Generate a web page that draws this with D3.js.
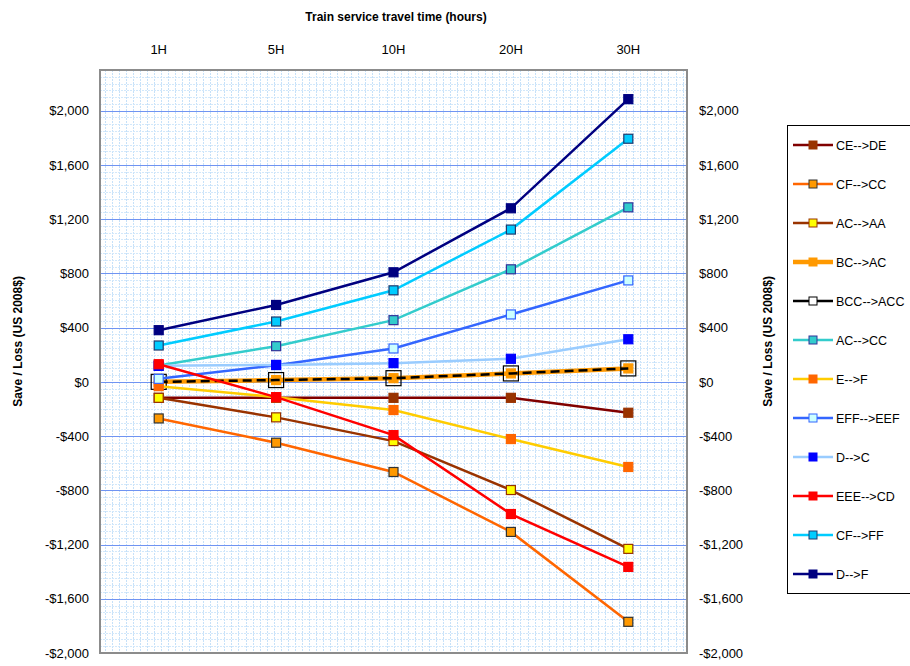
<!DOCTYPE html>
<html>
<head>
<meta charset="utf-8">
<script src="https://cdn.jsdelivr.net/npm/d3@7"></script>
<style>
  body { margin: 0; background: #fff; }
  text { font-family: "Liberation Sans", Arial, sans-serif; }
</style>
</head>
<body>
<div id="content"></div>
<script>
// categories + tick labels
var categories = ["1H", "5H", "10H", "20H", "30H"];
var yTicks = [-2000, -1600, -1200, -800, -400, 0, 400, 800, 1200, 1600, 2000];

// series values
var ceDe   = [-118, -118, -118, -118, -228];
var cfCc   = [-270, -449, -665, -1107, -1770];
var acAa   = [-118, -262, -437, -798, -1232];
var bcAc   = [0, 13, 27, 62, 99];
var bccAcc = [0, 13, 27, 62, 99];
var acCc   = [120, 263, 455, 830, 1287];
var eF     = [-32, -113, -208, -422, -628];
var effEef = [22, 123, 246, 497, 748];
var dC     = [118, 125, 138, 170, 314];
var eeeCd  = [130, -113, -393, -975, -1365];
var cfFf   = [268, 445, 675, 1123, 1793];
var dF     = [381, 567, 808, 1280, 2085];

var seriesNames = ["CE-->DE", "CF-->CC", "AC-->AA", "BC-->AC", "BCC-->ACC", "AC-->CC",
                   "E-->F", "EFF-->EEF", "D-->C", "EEE-->CD", "CF-->FF", "D-->F"];
var seriesValues = [ceDe, cfCc, acAa, bcAc, bccAcc, acCc, eF, effEef, dC, eeeCd, cfFf, dF];

// look of each series
var styles = [
  {line: "#800000", w: 2.5, fill: "#993300", stroke: "#993300", size: 9},
  {line: "#ff6600", w: 2.5, fill: "#ff9900", stroke: "#333333", size: 9},
  {line: "#993300", w: 2.5, fill: "#ffff00", stroke: "#993300", size: 9},
  {line: "#ff9900", w: 4.5, fill: "#ff9900", stroke: "#ff9900", size: 9},
  {line: "#000000", w: 2.5, fill: "none",    stroke: "#000000", size: 15, dash: "9,5", legendFill: "#ffffff"},
  {line: "#33cccc", w: 2.5, fill: "#33cccc", stroke: "#333399", size: 9},
  {line: "#ffcc00", w: 2.5, fill: "#ff6600", stroke: "#ff6600", size: 9},
  {line: "#3366ff", w: 2.5, fill: "#ccffff", stroke: "#3366ff", size: 9},
  {line: "#99ccff", w: 2.5, fill: "#0000ff", stroke: "#0000ff", size: 9},
  {line: "#ff0000", w: 2.5, fill: "#ff0000", stroke: "#ff0000", size: 9},
  {line: "#00ccff", w: 2.5, fill: "#00ccff", stroke: "#1f3a6e", size: 9},
  {line: "#000080", w: 2.5, fill: "#000080", stroke: "#000080", size: 9}
];

var W = 910, H = 666;
var pLeft = 100, pRight = 687, pTop = 70, pBottom = 653;

var svg = d3.select("#content").append("svg")
    .attr("width", W)
    .attr("height", H);

var x = d3.scaleBand().domain(categories).range([pLeft, pRight]).padding(0);
var y = d3.scaleLinear().domain([-2000, 2300]).range([pBottom, pTop]);

//plot area background
svg.append("rect")
    .attr("x", pLeft).attr("y", pTop)
    .attr("width", pRight - pLeft).attr("height", pBottom - pTop)
    .attr("fill", "#ffffff");

var grid = svg.append("g");

//minor vertical grid (pattern-like)
for (var gx = pLeft + 4.5; gx < pRight; gx += 7.05) {
  grid.append("line")
      .attr("x1", Math.round(gx) + 0.5).attr("x2", Math.round(gx) + 0.5)
      .attr("y1", pTop).attr("y2", pBottom)
      .attr("stroke", "#c6e1f9")
      .attr("stroke-width", 1)
      .attr("stroke-dasharray", "2,1");
}

//minor horizontal grid every 50
grid.selectAll(".minor").data(d3.range(-2000, 2300, 50))
  .enter().append("line")
    .attr("x1", pLeft).attr("x2", pRight)
    .attr("y1", function(d) { return Math.round(y(d)) + 0.5; })
    .attr("y2", function(d) { return Math.round(y(d)) + 0.5; })
    .attr("stroke", "#d2e8fb")
    .attr("stroke-width", 1)
    .attr("stroke-dasharray", "2,1");

//major horizontal grid
grid.selectAll(".major").data(yTicks)
  .enter().append("line")
    .attr("x1", pLeft).attr("x2", pRight)
    .attr("y1", function(d) { return Math.round(y(d)) + 0.5; })
    .attr("y2", function(d) { return Math.round(y(d)) + 0.5; })
    .attr("stroke", "#7094f2")
    .attr("stroke-width", 1.2);

//plot border
svg.append("rect")
    .attr("x", pLeft).attr("y", pTop)
    .attr("width", pRight - pLeft).attr("height", pBottom - pTop)
    .attr("fill", "none")
    .attr("stroke", "#8c8c8c")
    .attr("stroke-width", 2);

//axes
var fmt = function(d) { return (d < 0 ? "-$" : "$") + d3.format(",")(Math.abs(d)); };

var yLeft = svg.append("g")
    .attr("transform", "translate(" + pLeft + ",0)")
    .call(d3.axisLeft(y).tickValues(yTicks).tickFormat(fmt).tickSize(0).tickPadding(11));
var yRight = svg.append("g")
    .attr("transform", "translate(" + pRight + ",0)")
    .call(d3.axisRight(y).tickValues(yTicks).tickFormat(fmt).tickSize(0).tickPadding(12));
var xTop = svg.append("g")
    .attr("transform", "translate(0," + pTop + ")")
    .call(d3.axisTop(x).tickSize(0).tickPadding(16));

[yLeft, yRight, xTop].forEach(function(a) {
  a.select(".domain").remove();
  a.selectAll("text")
      .style("font-family", "Liberation Sans, Arial, sans-serif")
      .style("font-size", "13px")
      .attr("fill", "#000");
});

//titles
svg.append("text")
    .attr("x", 396).attr("y", 21)
    .attr("text-anchor", "middle")
    .style("font-size", "12px")
    .style("font-weight", "bold")
    .text("Train service travel time (hours)");

svg.append("text")
    .attr("transform", "translate(22," + ((pTop + pBottom) / 2 - 20) + ") rotate(-90)")
    .attr("text-anchor", "middle")
    .style("font-size", "12px")
    .style("font-weight", "bold")
    .text("Save / Loss (US 2008$)");

svg.append("text")
    .attr("transform", "translate(772," + ((pTop + pBottom) / 2 - 20) + ") rotate(-90)")
    .attr("text-anchor", "middle")
    .style("font-size", "12px")
    .style("font-weight", "bold")
    .text("Save / Loss (US 2008$)");

//series
var line = d3.line()
    .x(function(d, i) { return x(categories[i]) + x.bandwidth() / 2; })
    .y(function(d) { return y(d); });

var plot = svg.append("g");
seriesValues.forEach(function(vals, k) {
  var s = styles[k];
  var g = plot.append("g");
  g.append("path")
      .attr("d", line(vals))
      .attr("fill", "none")
      .attr("stroke", s.line)
      .attr("stroke-width", s.w)
      .attr("stroke-dasharray", s.dash || null);
  g.selectAll("rect").data(vals).enter().append("rect")
      .attr("x", function(d, i) { return x(categories[i]) + x.bandwidth() / 2 - s.size / 2; })
      .attr("y", function(d) { return y(d) - s.size / 2; })
      .attr("width", s.size).attr("height", s.size)
      .attr("fill", s.fill)
      .attr("stroke", s.stroke)
      .attr("stroke-width", 1.2);
});

//legend
var lg = svg.append("g");
lg.append("rect")
    .attr("x", 787.5).attr("y", 125.5)
    .attr("width", 140).attr("height", 468)
    .attr("fill", "#fff")
    .attr("stroke", "#000")
    .attr("stroke-width", 1);

seriesNames.forEach(function(name, k) {
  var s = styles[k];
  var ly = 145 + k * 39.0;
  var item = lg.append("g");
  item.append("line")
      .attr("x1", 793).attr("x2", 833)
      .attr("y1", ly).attr("y2", ly)
      .attr("stroke", s.line)
      .attr("stroke-width", s.w);
  var ms = 8;
  item.append("rect")
      .attr("x", 813 - ms / 2).attr("y", ly - ms / 2)
      .attr("width", ms).attr("height", ms)
      .attr("fill", s.legendFill || s.fill)
      .attr("stroke", s.stroke)
      .attr("stroke-width", 1);
  item.append("text")
      .attr("x", 836).attr("y", ly + 4.5)
      .style("font-size", "12.5px")
      .text(name);
});
</script>
</body>
</html>
